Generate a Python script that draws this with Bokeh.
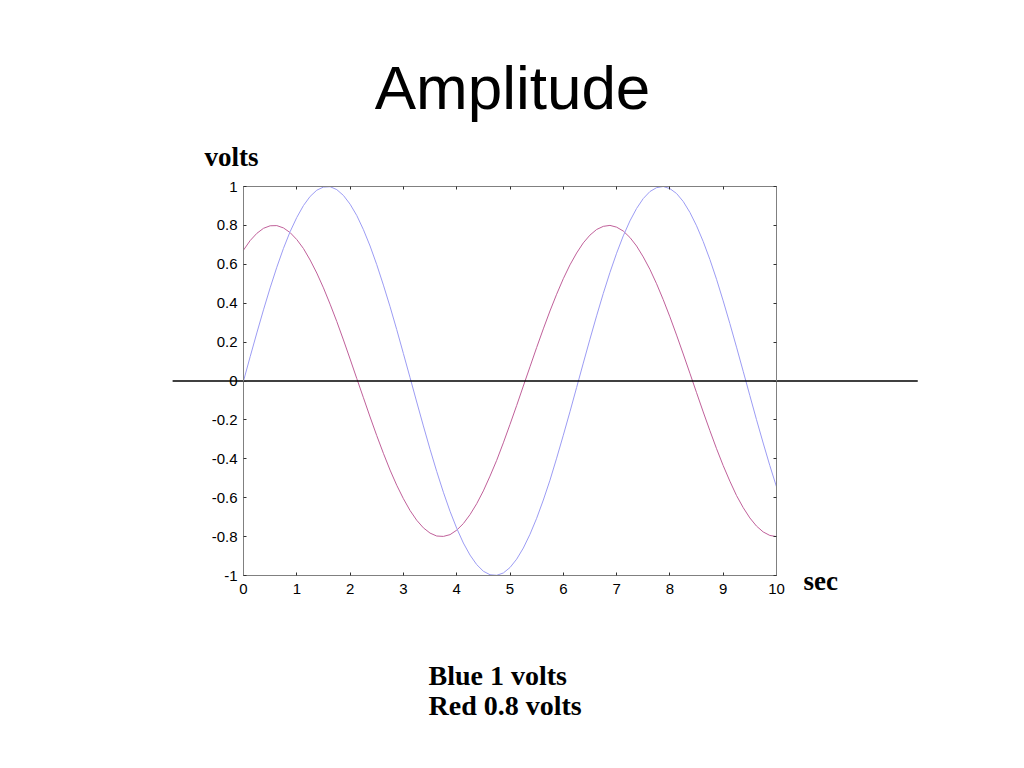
from bokeh.plotting import figure
from bokeh.models import LinearAxis, Range1d, FixedTicker, Label
from bokeh.embed import file_html
from bokeh.resources import INLINE

# ---- data ----
t_sec = [0, 0.125, 0.25, 0.375, 0.5, 0.625, 0.75, 0.875, 1.0, 1.125, 1.25, 1.375, 1.5,
         1.625, 1.75, 1.875, 2.0, 2.125, 2.25, 2.375, 2.5, 2.625, 2.75, 2.875, 3.0, 3.125,
         3.25, 3.375, 3.5, 3.625, 3.75, 3.875, 4.0, 4.125, 4.25, 4.375, 4.5, 4.625, 4.75,
         4.875, 5.0, 5.125, 5.25, 5.375, 5.5, 5.625, 5.75, 5.875, 6.0, 6.125, 6.25, 6.375,
         6.5, 6.625, 6.75, 6.875, 7.0, 7.125, 7.25, 7.375, 7.5, 7.625, 7.75, 7.875, 8.0,
         8.125, 8.25, 8.375, 8.5, 8.625, 8.75, 8.875, 9.0, 9.125, 9.25, 9.375, 9.5, 9.625,
         9.75, 9.875, 10.0]
blue_volts = [0.0, 0.125, 0.247, 0.366, 0.479, 0.585, 0.682, 0.768, 0.841, 0.902, 0.949,
              0.981, 0.997, 0.999, 0.984, 0.954, 0.909, 0.851, 0.778, 0.694, 0.598, 0.493,
              0.382, 0.264, 0.141, 0.017, -0.108, -0.231, -0.351, -0.465, -0.572, -0.670,
              -0.757, -0.833, -0.895, -0.944, -0.978, -0.996, -0.999, -0.987, -0.959, -0.916,
              -0.859, -0.788, -0.706, -0.612, -0.510, -0.397, -0.279, -0.158, -0.033, 0.092,
              0.215, 0.335, 0.450, 0.558, 0.657, 0.746, 0.823, 0.887, 0.938, 0.974, 0.994,
              1.000, 0.989, 0.964, 0.923, 0.867, 0.798, 0.717, 0.625, 0.523, 0.412, 0.295,
              0.174, 0.050, -0.075, -0.199, -0.319, -0.435, -0.544]
red_volts = [0.673, 0.722, 0.759, 0.785, 0.798, 0.799, 0.787, 0.763, 0.727, 0.681, 0.622,
             0.555, 0.479, 0.395, 0.306, 0.211, 0.113, 0.013, -0.086, -0.185, -0.281, -0.372,
             -0.458, -0.536, -0.605, -0.666, -0.716, -0.755, -0.782, -0.797, -0.799, -0.790,
             -0.767, -0.733, -0.687, -0.631, -0.565, -0.489, -0.408, -0.318, -0.223, -0.126,
             -0.026, 0.073, 0.172, 0.268, 0.360, 0.446, 0.526, 0.597, 0.658, 0.710, 0.750,
             0.779, 0.795, 0.800, 0.791, 0.771, 0.738, 0.694, 0.638, 0.574, 0.500, 0.418,
             0.330, 0.236, 0.139, 0.040, -0.060, -0.159, -0.255, -0.348, -0.435, -0.515,
             -0.589, -0.651, -0.704, -0.746, -0.776, -0.794, -0.800]
zero_line_x = [-1.33, 12.65]
zero_line_y = [0, 0]

x_ticks = [0, 1, 2, 3, 4, 5, 6, 7, 8, 9, 10]
x_tick_labels = ["0", "1", "2", "3", "4", "5", "6", "7", "8", "9", "10"]
y_ticks = [-1.0, -0.8, -0.6, -0.4, -0.2, 0.0, 0.2, 0.4, 0.6, 0.8, 1.0]
y_tick_labels = ["-1", "-0.8", "-0.6", "-0.4", "-0.2", "0", "0.2", "0.4", "0.6", "0.8", "1"]

title_text = "Amplitude"
y_label_text = "volts"
x_label_text = "sec"
note_lines = ["Blue 1 volts", "Red 0.8 volts"]

# ---- figure ----
W, H = 1008, 750
X0_PX, X_SCALE = 243.0, 53.3      # page px of x=0, px per second
Y1_PX, Y_SCALE = 186.0, 194.5     # page px of y=1, px per volt
p = figure(width=W, height=H, output_backend="svg", toolbar_location=None,
           x_axis_location=None, y_axis_location=None, min_border=0,
           x_range=Range1d((0 - X0_PX) / X_SCALE, (W - X0_PX) / X_SCALE),
           y_range=Range1d(1 - (H - Y1_PX) / Y_SCALE, 1 + Y1_PX / Y_SCALE))
p.outline_line_color = None
p.xgrid.visible = False
p.ygrid.visible = False
p.background_fill_color = "white"
p.border_fill_color = "white"

SANS = "Liberation Sans"
SERIF = "Liberation Serif"
AXIS_GRAY = "#808080"


def style_axis(ax, show_labels):
    ax.axis_line_color = AXIS_GRAY
    ax.axis_line_width = 1
    ax.major_tick_in = 3
    ax.major_tick_out = 0
    ax.major_tick_line_color = "#303030"
    ax.minor_tick_line_color = None
    ax.major_label_text_font = SANS
    ax.major_label_text_font_size = "15px"
    ax.major_label_text_color = "black" if show_labels else None
    ax.major_label_standoff = 5


xt = FixedTicker(ticks=x_ticks)
yt = FixedTicker(ticks=y_ticks)

bottom = LinearAxis(ticker=xt, fixed_location=-1.0, bounds=(0, 10),
                    major_label_overrides={k: v for k, v in zip(x_ticks, x_tick_labels)})
style_axis(bottom, True)
bottom.major_label_standoff = 8
top = LinearAxis(ticker=xt, fixed_location=1.0, bounds=(0, 10))
style_axis(top, False)
left = LinearAxis(ticker=yt, fixed_location=0.0, bounds=(-1, 1),
                  major_label_overrides={k: v for k, v in zip(y_ticks, y_tick_labels)})
style_axis(left, True)
left.major_label_standoff = 6
right = LinearAxis(ticker=yt, fixed_location=10.0, bounds=(-1, 1))
style_axis(right, False)

p.add_layout(bottom, "below")
p.add_layout(top, "above")
p.add_layout(left, "left")
p.add_layout(right, "right")

# curves
p.line(t_sec, red_volts, line_color="#c0609a", line_width=1)
p.line(t_sec, blue_volts, line_color="#9c9cf4", line_width=1)
# zero line
p.line(zero_line_x, zero_line_y, line_color="black", line_width=1.3)


def px2x(px):
    return (px - X0_PX) / X_SCALE


def py2y(py):
    return 1 - (py - Y1_PX) / Y_SCALE


p.add_layout(Label(x=px2x(512), y=py2y(87), text=title_text, text_align="center",
                   text_baseline="alphabetic", text_font=SANS, text_font_size="62px",
                   text_color="black"))
p.add_layout(Label(x=px2x(204), y=py2y(156), text=y_label_text, text_align="left",
                   text_baseline="alphabetic", text_font=SERIF, text_font_size="27px",
                   text_font_style="bold", text_color="black"))
p.add_layout(Label(x=px2x(803), y=py2y(580), text=x_label_text, text_align="left",
                   text_baseline="alphabetic", text_font=SERIF, text_font_size="27px",
                   text_font_style="bold", text_color="black"))
for i, line in enumerate(note_lines):
    p.add_layout(Label(x=px2x(428), y=py2y(675 + 30 * i), text=line, text_align="left",
                       text_baseline="alphabetic", text_font=SERIF, text_font_size="28px",
                       text_font_style="bold", text_color="black"))

open("out.html", "w").write(file_html(p, INLINE))
